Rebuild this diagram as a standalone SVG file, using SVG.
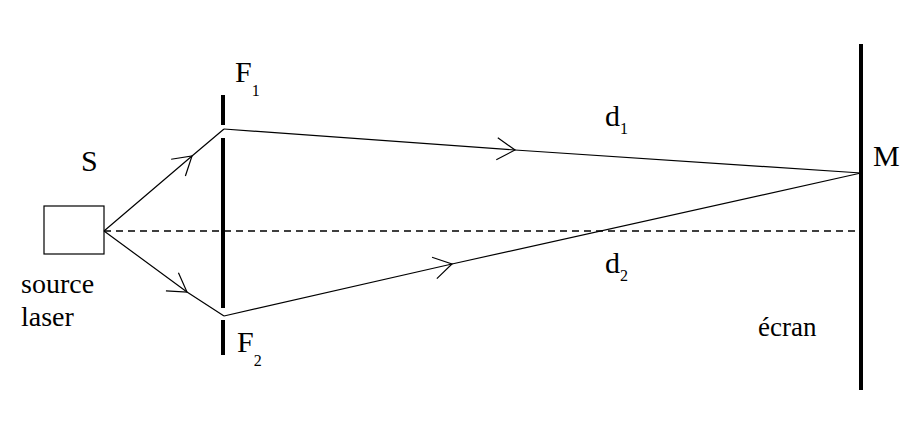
<svg xmlns="http://www.w3.org/2000/svg" width="914" height="426" viewBox="0 0 914 426">
<style>
.t{font-family:"Liberation Serif",serif;fill:#000}
.ray{fill:none;stroke:#000;stroke-width:1.2;marker-mid:url(#chev)}
.bar{stroke:#000;stroke-width:4}
</style>
<defs>
<marker id="chev" markerUnits="userSpaceOnUse" markerWidth="40" markerHeight="40" refX="0" refY="0" viewBox="-20 -20 40 40" orient="auto">
<path d="M-18,-11 L0,0 L-18,11" fill="none" stroke="#000" stroke-width="1.2"/>
</marker>
</defs>
<rect width="914" height="426" fill="#fff"/>
<g id="source">
<rect x="44" y="206" width="60" height="48" fill="#fff" stroke="#000" stroke-width="1.2"/>
<text class="t" x="81" y="171" font-size="30">S</text>
<text class="t" x="21" y="293" font-size="28">source</text>
<text class="t" x="21" y="326" font-size="28">laser</text>
</g>
<g id="slits">
<line class="bar" x1="223" y1="95" x2="223" y2="125"/>
<line class="bar" x1="223" y1="138" x2="223" y2="308"/>
<line class="bar" x1="223" y1="320" x2="223" y2="355"/>
<text class="t" x="235" y="82" font-size="30">F<tspan font-size="16" dy="14">1</tspan></text>
<text class="t" x="237" y="352" font-size="30">F<tspan font-size="16" dy="14">2</tspan></text>
</g>
<g id="screen">
<line class="bar" x1="861" y1="44" x2="861" y2="390"/>
<text class="t" x="873" y="166" font-size="30">M</text>
<text class="t" x="758" y="336" font-size="27">écran</text>
</g>
<g id="connectors">
<line x1="104" y1="231" x2="860" y2="231" stroke="#000" stroke-width="1.6" stroke-dasharray="7,5"/>
<polyline class="ray" points="104,231 192,156 224,129"/>
<polyline class="ray" points="104,231 187,292 224,316"/>
<polyline class="ray" points="224,129 515,150 861,173"/>
<polyline class="ray" points="224,316 452,264 861,173"/>
</g>
<g id="labels">
<text class="t" x="605" y="126" font-size="30">d<tspan font-size="16" dy="8">1</tspan></text>
<text class="t" x="605" y="273" font-size="30">d<tspan font-size="16" dy="8">2</tspan></text>
</g>
</svg>
